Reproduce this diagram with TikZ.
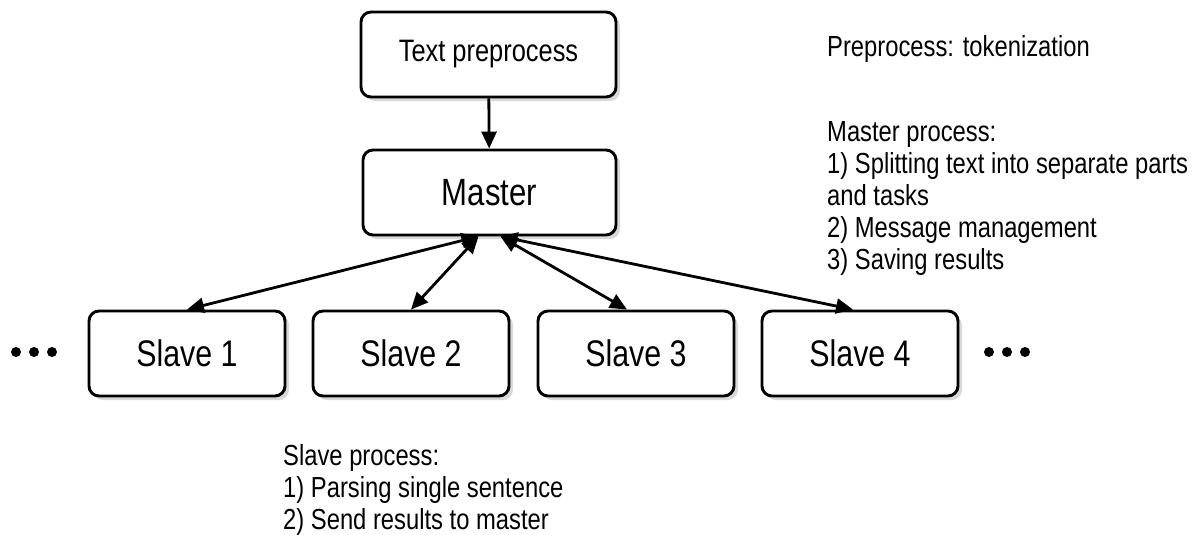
\documentclass[tikz,border=0pt]{standalone}
\usepackage{fontspec}
\setmainfont{Liberation Sans}[FakeStretch=0.82]
\usetikzlibrary{arrows.meta,shadows,positioning}

\begin{document}
\begin{tikzpicture}[x=1pt,y=-1pt,
  process/.style={draw,line width=2.9pt,rounded corners=10pt,fill=white,
    minimum height=85pt,inner sep=0pt,
    drop shadow={shadow xshift=4pt,shadow yshift=-4pt,opacity=0.3}},
  link/.style={line width=2.8pt,arrows={Triangle[length=17pt,width=15pt]-Triangle[length=17pt,width=15pt]}},
  note/.style={anchor=base west,align=left,inner sep=0pt,font=\fontsize{29}{32}\selectfont}]
\useasboundingbox (0,0) rectangle (1192,535);
\node[process,minimum width=255pt,font=\fontsize{31}{37}\selectfont] (pre) at (488.5,54.5) {Text preprocess};
\node[process,minimum width=253pt,font=\fontsize{38}{44}\selectfont] (master) at (489.5,192.5) {Master};
\foreach \i/\x in {1/187,2/411,3/636,4/860}
  \node[process,minimum width=196pt,font=\fontsize{37}{44}\selectfont] (slave\i) at (\x,353.5) {Slave \i};
% more slaves on both sides
\foreach \x in {16,34,52,989,1007,1025}
  \fill (\x,352) circle (5pt);
\draw[line width=2.8pt,arrows={-Triangle[length=17pt,width=15pt]}] (pre) -- (master);
\draw[link] ([xshift=-11pt]master.south) -- (slave1.north);
\draw[link] ([xshift=-11pt]master.south) -- (slave2.north);
\draw[link] ([xshift=11pt]master.south) -- ([xshift=-9pt]slave3.north);
\draw[link] ([xshift=11pt]master.south) -- ([xshift=-7pt]slave4.north);
% base of a multi-line note is its last line
\node[note] (prenote) at (827,57) {Preprocess: tokenization};
\node[note] (masternote) at (827,269) {Master process:\\1) Splitting text into separate parts\\and tasks\\2) Message management\\3) Saving results};
\node[note] (slavenote) at (283,529) {Slave process:\\1) Parsing single sentence\\2) Send results to master};
\end{tikzpicture}
\end{document}
